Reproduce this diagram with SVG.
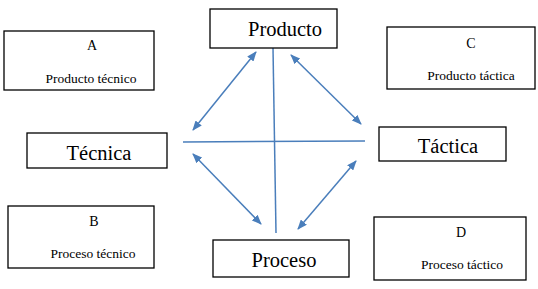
<svg xmlns="http://www.w3.org/2000/svg" width="538" height="289" viewBox="0 0 538 289">
<style>
.box{fill:#fff;stroke:#000;stroke-width:1.3}
text{font-family:'Liberation Serif','Times New Roman','DejaVu Serif',serif;fill:#000;text-anchor:middle}
.big{font-size:20.5px}
.let{font-size:14px}
.sm{font-size:13.5px}
.ln{stroke:#4a7ebb;stroke-width:1.5;fill:none}
</style>
<defs>
<marker id="ah" markerWidth="10" markerHeight="8" refX="9" refY="4" orient="auto-start-reverse" markerUnits="userSpaceOnUse">
<path d="M0,0 L10,4 L0,8 Z" fill="#4a7ebb"/>
</marker>
</defs>
<rect width="538" height="289" fill="#fff"/>
<g id="connectors">
<line class="ln" x1="273" y1="48" x2="276" y2="233"/>
<line class="ln" x1="183" y1="142" x2="365" y2="141"/>
<line class="ln" x1="193" y1="130" x2="256" y2="52" marker-start="url(#ah)" marker-end="url(#ah)"/>
<line class="ln" x1="291" y1="55" x2="361" y2="124" marker-start="url(#ah)" marker-end="url(#ah)"/>
<line class="ln" x1="193" y1="154" x2="261" y2="224" marker-start="url(#ah)" marker-end="url(#ah)"/>
<line class="ln" x1="356" y1="161" x2="298" y2="229" marker-start="url(#ah)" marker-end="url(#ah)"/>
</g>
<g id="producto">
<rect class="box" x="210" y="9" width="127" height="39"/>
<text class="big" x="285" y="36">Producto</text>
</g>
<g id="tecnica">
<rect class="box" x="27" y="133" width="140" height="35"/>
<text class="big" x="99" y="160">Técnica</text>
</g>
<g id="tactica">
<rect class="box" x="379" y="127" width="127" height="34"/>
<text class="big" x="448" y="153">Táctica</text>
</g>
<g id="proceso">
<rect class="box" x="213" y="240" width="136" height="37"/>
<text class="big" x="284" y="267">Proceso</text>
</g>
<g id="a">
<rect class="box" x="4" y="31" width="150" height="59"/>
<text class="let" x="92" y="50">A</text>
<text class="sm" x="91" y="83">Producto técnico</text>
</g>
<g id="c">
<rect class="box" x="387" y="27" width="148" height="62"/>
<text class="let" x="471" y="48">C</text>
<text class="sm" x="471" y="80">Producto táctica</text>
</g>
<g id="b">
<rect class="box" x="8" y="206" width="146" height="62"/>
<text class="let" x="94" y="226">B</text>
<text class="sm" x="93" y="258">Proceso técnico</text>
</g>
<g id="d">
<rect class="box" x="374" y="217" width="152" height="63"/>
<text class="let" x="461" y="237">D</text>
<text class="sm" x="462" y="269">Proceso táctico</text>
</g>
</svg>
